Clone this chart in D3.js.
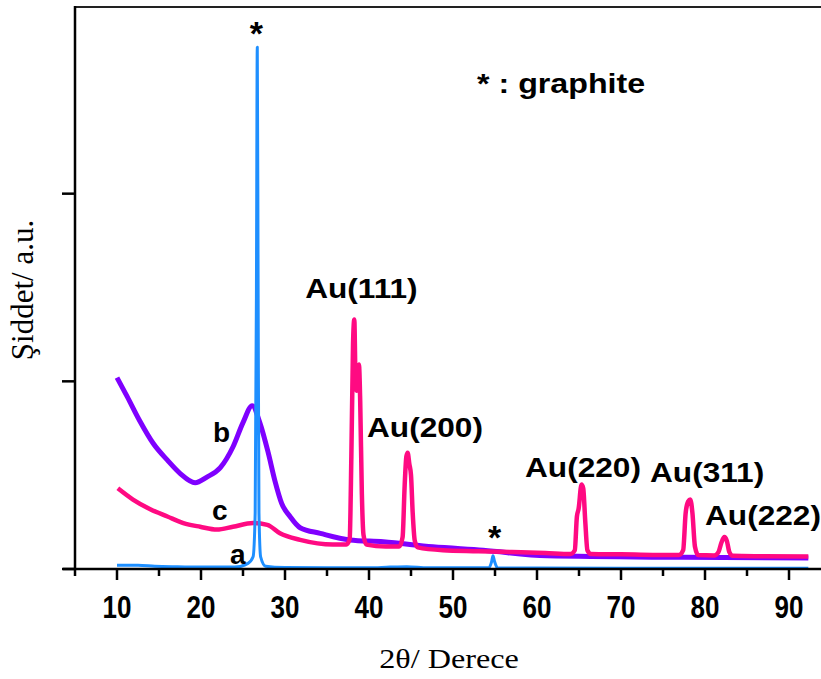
<!DOCTYPE html>
<html>
<head>
<meta charset="utf-8">
<script src="https://cdn.jsdelivr.net/npm/d3@7"></script>
<style>
  html, body { margin: 0; padding: 0; background: #fff; }
  svg { display: block; }
</style>
</head>
<body>
<svg id="chart" width="821" height="679"></svg>
<script>
// ---- data (2θ in degrees, intensity in a.u.) ----
const xMajorTicks = [10, 20, 30, 40, 50, 60, 70, 80, 90];
const xMinorTicks = [5, 15, 25, 35, 45, 55, 65, 75, 85];
const yTicks = [0, 1, 2];

// a: graphite (blue)
const seriesA = [
  [10, 0.02], [12.5, 0.02], [14.5, 0.015], [17, 0.012], [20, 0.01], [24, 0.01],
  [25.6, 0.03], [26.2, 0.065], [26.45, 0.3], [26.6, 1.5], [26.7, 2.78], [26.8, 1.5],
  [26.9, 0.3], [27.1, 0.065], [27.7, 0.015], [30, 0.008], [35, 0.006], [40, 0.006],
  [42.5, 0.01], [44.5, 0.012], [47, 0.006], [54.3, 0.008], [54.6, 0.04], [54.76, 0.07],
  [54.95, 0.04], [55.3, 0.006], [60, 0.005], [70, 0.004], [80, 0.004], [92.3, 0.004]
];

// b: (purple)
const seriesB = [
  [10, 1.02], [11.2, 0.92], [12.7, 0.79], [14.3, 0.67], [16.0, 0.58], [17.5, 0.51],
  [19.3, 0.46], [20.7, 0.49], [22.3, 0.54], [23.8, 0.65], [25.0, 0.78], [26.1, 0.87],
  [27.0, 0.78], [28.0, 0.62], [28.8, 0.47], [29.6, 0.35], [30.6, 0.28], [31.8, 0.22],
  [34.2, 0.19], [37.7, 0.155], [41.7, 0.145], [47.6, 0.118], [53.6, 0.1], [61.2, 0.07],
  [77.4, 0.062], [92.3, 0.058]
];

// c: Au (pink)
const seriesC = [
  [10.1, 0.43], [11.9, 0.37], [13.9, 0.32], [16.0, 0.28], [17.9, 0.245], [19.9, 0.225],
  [21.9, 0.21], [23.8, 0.225], [26.2, 0.245], [27.9, 0.235], [29.4, 0.19], [31.8, 0.155],
  [35.7, 0.13], [37.3, 0.13], [37.7, 0.16], [37.9, 0.6], [38.1, 1.2], [38.25, 1.33],
  [38.4, 1.0], [38.55, 0.95], [38.8, 1.09], [38.95, 0.9], [39.15, 0.4], [39.35, 0.18],
  [39.7, 0.13], [42, 0.12], [43.6, 0.12], [44.0, 0.17], [44.25, 0.45], [44.45, 0.6],
  [44.6, 0.62], [44.8, 0.56], [45.0, 0.5], [45.2, 0.3], [45.45, 0.15], [45.8, 0.115],
  [48.8, 0.1], [53, 0.095], [57, 0.09], [61, 0.085], [64.0, 0.08], [64.5, 0.1],
  [64.75, 0.28], [64.95, 0.32], [65.3, 0.45], [65.5, 0.43], [65.75, 0.25], [66.0, 0.1],
  [66.4, 0.08], [70, 0.078], [76.9, 0.074], [77.4, 0.1], [77.7, 0.3], [78.0, 0.36],
  [78.25, 0.37], [78.5, 0.3], [78.8, 0.12], [79.2, 0.074], [81.1, 0.072], [81.6, 0.09],
  [81.95, 0.14], [82.3, 0.17], [82.6, 0.15], [82.9, 0.09], [83.3, 0.07], [87, 0.068],
  [92.3, 0.066]
];

const seriesNames = ["b", "c", "a"];
const seriesColors = { a: "#1e8fff", b: "#7f00ff", c: "#ff0a82" };

// annotation texts placed in data units (x, baseline y)
const peakLabels = [
  { text: "Au(111)", x: 32.4, y: 1.444 },
  { text: "Au(200)", x: 39.76, y: 0.703 },
  { text: "Au(220)", x: 58.57, y: 0.49 },
  { text: "Au(311)", x: 73.45, y: 0.4635 },
  { text: "Au(222)", x: 80.0, y: 0.234 }
];
const starLabels = [
  { text: "*", x: 26.6, y: 2.79 },
  { text: "*", x: 54.95, y: 0.107 }
];
const curveLabels = [
  { text: "b", x: 21.43, y: 0.677 },
  { text: "c", x: 21.3, y: 0.261 },
  { text: "a", x: 23.45, y: 0.027 }
];
const legendText = { text: "* : graphite", x: 52.86, y: 2.536 };

// ---- drawing ----
const svg = d3.select("#chart");
const x = d3.scaleLinear().domain([5, 93.69]).range([75, 820]);
const y = d3.scaleLinear().domain([0, 3]).range([569, 6]);

const sans = "'Liberation Sans', Arial, sans-serif";
const serif = "'Liberation Serif', 'Times New Roman', serif";

function addText(parent, px, py, str, opts) {
  const t = parent.append("text")
    .attr("transform", `translate(${px},${py}) scale(${opts.sx || 1},${opts.sy || 1})`)
    .attr("font-family", opts.family || sans)
    .attr("font-size", opts.size || 28)
    .attr("text-anchor", opts.anchor || "start")
    .attr("fill", "#000")
    .text(str);
  if (opts.bold) t.attr("font-weight", "bold");
  return t;
}

// top border
svg.append("line").attr("x1", 75).attr("x2", 821).attr("y1", 7).attr("y2", 7)
  .attr("stroke", "#222").attr("stroke-width", 2);

// curves
const line = d3.line().x(d => x(d[0])).y(d => y(d[1])).curve(d3.curveMonotoneX);
const seriesData = { a: seriesA, b: seriesB, c: seriesC };
const widths = { a: 3, b: 5, c: 4.5 };
seriesNames.forEach(k => {
  svg.append("path").datum(seriesData[k])
    .attr("d", line).attr("fill", "none")
    .attr("stroke", seriesColors[k]).attr("stroke-width", widths[k])
    .attr("stroke-linejoin", "round");
});

// x axis
const xAxisG = svg.append("g").attr("transform", `translate(0,${y(0)})`);
xAxisG.append("line").attr("x1", 63).attr("x2", 821).attr("stroke", "#000").attr("stroke-width", 2.5);
xAxisG.selectAll(".maj").data(xMajorTicks).join("line")
  .attr("x1", d => x(d)).attr("x2", d => x(d)).attr("y1", 0).attr("y2", 11)
  .attr("stroke", "#000").attr("stroke-width", 2.5);
xAxisG.selectAll(".min").data(xMinorTicks).join("line")
  .attr("x1", d => x(d)).attr("x2", d => x(d)).attr("y1", 0).attr("y2", 7)
  .attr("stroke", "#000").attr("stroke-width", 2.5);
xMajorTicks.forEach(d => addText(xAxisG, x(d), 49, d, { bold: true, size: 26, sy: 1.2, anchor: "middle" }));

// y axis
const yAxisG = svg.append("g").attr("transform", `translate(${x(5)},0)`);
yAxisG.append("line").attr("y1", 6).attr("y2", y(0)).attr("stroke", "#000").attr("stroke-width", 2.5);
yAxisG.selectAll("line.t").data(yTicks).join("line").attr("class", "t")
  .attr("x1", -13).attr("x2", 0).attr("y1", d => y(d)).attr("y2", d => y(d))
  .attr("stroke", "#000").attr("stroke-width", 2.5);

// axis titles
addText(svg, 449, 668, "2θ/ Derece", { family: serif, size: 28, sx: 1.15, anchor: "middle" });
svg.append("text").attr("transform", "translate(33,290) rotate(-90)")
  .attr("text-anchor", "middle").attr("font-family", serif).attr("font-size", 31)
  .text("Şiddet/ a.u.");

// annotations
peakLabels.forEach(d => addText(svg, x(d.x), y(d.y), d.text, { bold: true, size: 28, sx: 1.13 }));
starLabels.forEach(d => addText(svg, x(d.x), y(d.y), d.text, { bold: true, size: 34, anchor: "middle" }));
curveLabels.forEach(d => addText(svg, x(d.x), y(d.y), d.text, { bold: true, size: 28 }));
addText(svg, x(legendText.x), y(legendText.y), legendText.text, { bold: true, size: 28, sx: 1.15 });
</script>
</body>
</html>
